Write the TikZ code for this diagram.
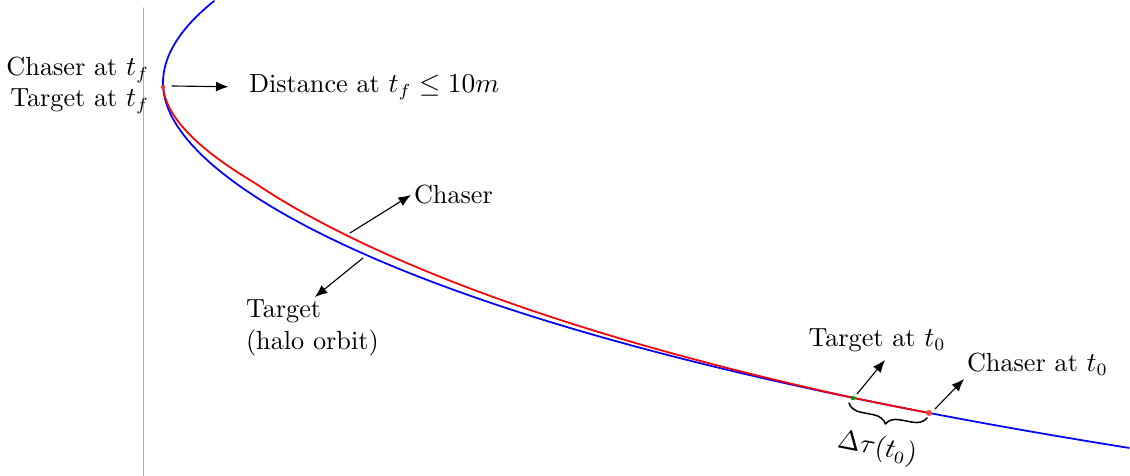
\documentclass[tikz,border=0pt]{standalone}
\usetikzlibrary{decorations.pathreplacing,arrows.meta}
\begin{document}
\begin{tikzpicture}[x=0.01407cm,y=-0.01407cm,line cap=round,line join=round,
  font=\fontsize{10.5pt}{12.6pt}\selectfont,
  lbl/.style={inner sep=1pt},
  ptr/.style={-{Latex[length=5pt,width=4pt]},line width=0.45pt}]
  \useasboundingbox (0,0) rectangle (1130,476);
  \draw[gray!60,line width=0.4pt] (143,8)--(143,476);
  % halo orbit (target) and chaser
  \draw[blue,line width=0.7pt] plot[domain=-0.82:0,samples=30,variable=\s] ({163+76*\s*\s},{83+100*\s})
    -- plot[domain=0:3.65,samples=90,variable=\s] ({163+\s*\s*(67.77+2.687*(\s-2.317)^2)},{83+100*\s});
  \draw[red,line width=0.7pt] plot[domain=0.03:3.30,samples=90,variable=\s] ({163+\s*\s*(67.77+2.687*(\s-2.317)^2)+9*max(3.15-\s,0)*\s*min(\s,1)},{83+100*\s});
  \fill[red!80] (163,87) circle (2.2);
  \fill[green!60!black] (853,398) circle (2.2);
  \fill[red!75] (929,413) circle (3);
  % labels
  \node[lbl,anchor=east] (chtf) at (152,70) {Chaser at $t_f$};
  \node[lbl,anchor=east] (tatf) at (152,101) {Target at $t_f$};
  \coordinate (vtx) at (172,86);
  \node[lbl,anchor=west] (dist) at (246,87) {Distance at $t_f \leq 10m$};
  \draw[ptr,shorten >=7pt] (vtx) -- (dist.west);
  \node[lbl,anchor=west] (chs) at (411,195) {Chaser};
  \coordinate (onred) at (350,233);
  \draw[ptr] (onred) -- (chs.west);
  \node[lbl,anchor=north west,align=left] (tgt) at (243,297) {Target\\(halo orbit)};
  \coordinate (onblue) at (363,258);
  \draw[ptr] (onblue) -- ([xshift=1pt]tgt.north);
  \node[lbl,anchor=south] (tt0) at (877,355) {Target at $t_0$};
  \node[lbl,anchor=south west] (ct0) at (964,379) {Chaser at $t_0$};
  \coordinate (tpos) at (857,394);
  \coordinate (cpos) at (935,409);
  \draw[ptr] (tpos) -- ([shift={(8,5)}]tt0.south);
  \draw[ptr] (cpos) -- (ct0.south west);
  \draw[decorate,decoration={brace,mirror,amplitude=5.5pt},line width=0.6pt] (849,403) -- (927,418) node[midway,below=8.5pt,xshift=-3pt,rotate=-11,lbl] (dtau) {$\Delta\tau(t_0)$};
\end{tikzpicture}
\end{document}
